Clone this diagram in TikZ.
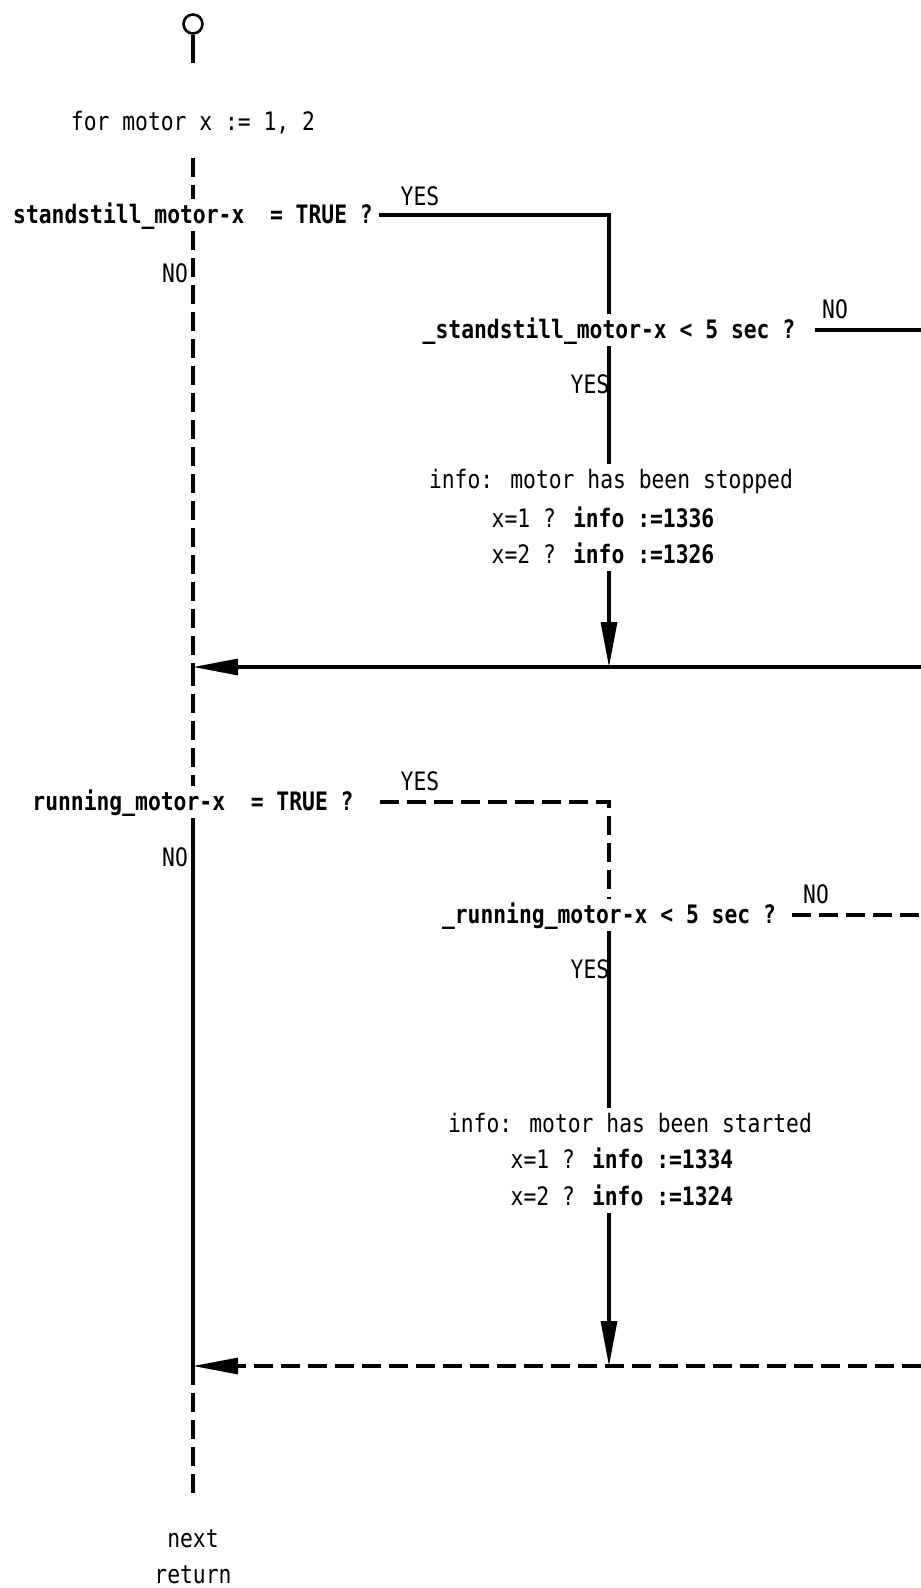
\documentclass[tikz,border=0pt]{standalone}
\usepackage{fontspec}
\newfontfamily\cadfont[FakeStretch=0.84]{DejaVu Sans Mono}
\usetikzlibrary{arrows.meta}
\begin{document}
\begin{tikzpicture}[x=1pt,y=-1pt,
  every node/.style={font=\cadfont\fontsize{25.4}{30}\selectfont},
  txt/.style={inner xsep=6pt, inner ysep=4pt, text height=20pt, text depth=4pt, anchor=base},
  dec/.style={txt, font=\cadfont\bfseries\fontsize{25.4}{30}\selectfont},
  lbl/.style={inner sep=0pt, anchor=base},
  flow/.style={line width=3.2pt},
  dashflow/.style={flow, dash pattern=on 19pt off 8pt},
  tip/.style={-{Triangle[length=45pt,width=16pt]}}
]
\useasboundingbox (0,0) rectangle (921,1588);
% nodes
\node[circle, draw, line width=2.6pt, minimum size=19pt, inner sep=0pt] (c0) at (193,24) {};
\coordinate (stem) at (193,63);
\node[txt] (loop) at (193,130) {for motor x := 1, 2};
\node[dec] (d1) at (193,223) {standstill\_motor-x~~= TRUE ?};
\node[lbl] (yes1) at (420,205) {YES};
\node[lbl] (no1) at (175,282) {NO};
\node[dec] (d2) at (609,338) {\_standstill\_motor-x < 5 sec ?};
\node[lbl] (no2) at (835,318) {NO};
\node[lbl] (yes2) at (590,393) {YES};
\node[txt] (i1a) at (611,488) {info: motor has been stopped};
\node[txt] (i1b) at (603,527) {x=1 ? \textbf{info :=1336}};
\node[txt] (i1c) at (603,563) {x=2 ? \textbf{info :=1326}};
\coordinate (j1) at (193,667);
\coordinate (m1) at (609,667);
\coordinate (r1) at (921,667);
\node[dec] (d3) at (193,810) {running\_motor-x~~= TRUE ?};
\node[lbl] (yes3) at (420,790) {YES};
\node[lbl] (no3) at (175,866) {NO};
\node[dec] (d4) at (609,923) {\_running\_motor-x < 5 sec ?};
\node[lbl] (no4) at (816,903) {NO};
\node[lbl] (yes4) at (590,978) {YES};
\node[txt] (i2a) at (630,1132) {info: motor has been started};
\node[txt] (i2b) at (622,1168) {x=1 ? \textbf{info :=1334}};
\node[txt] (i2c) at (622,1205) {x=2 ? \textbf{info :=1324}};
\coordinate (j2) at (193,1366);
\coordinate (m2) at (609,1366);
\coordinate (r2) at (921,1366);
\coordinate (e) at (193,1500);
\node[lbl] (nx) at (193,1547) {next};
\node[lbl] (rt) at (193,1583) {return};
% connectors
\draw[flow] (c0) -- (stem);
\draw[dashflow, shorten <=20pt] (loop) -- (d1);
\draw[flow] (d1.east) -| (d2.north);
\draw[dashflow] (d1) -- (j1);
\draw[flow, shorten <=14pt] (d2.east) -- (d2.east -| r1);
\draw[flow] (d2.south) -- (d2.south |- i1a.north);
\draw[flow, tip] (i1c.south -| m1) -- (m1);
\draw[flow, tip] (r1) -- (j1);
\draw[dashflow] (j1) -- (d3);
\draw[dashflow, shorten <=20pt] (d3.east) -| (d4.north);
\draw[flow] (d3) -- (j2);
\draw[dashflow, shorten <=10pt] (d4.east) -- (d4.east -| r2);
\draw[flow] (d4.south) -- (d4.south |- i2a.north);
\draw[flow, tip] (i2c.south -| m2) -- (m2);
\draw[dashflow, tip] (r2) -- (j2);
\draw[dashflow] (j2) -- (e);
\end{tikzpicture}
\end{document}
